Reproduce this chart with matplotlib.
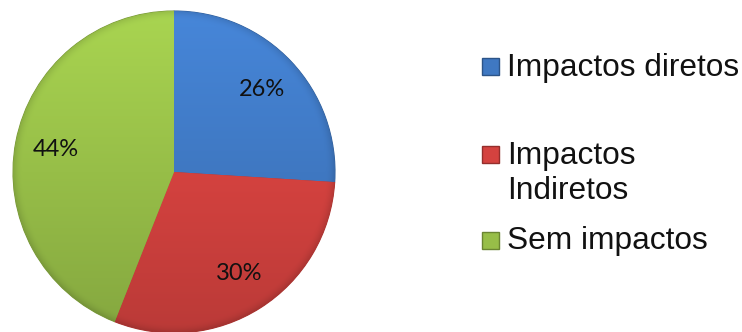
import numpy as np
import matplotlib.pyplot as plt
import matplotlib.colors as mcolors
from matplotlib.patches import Rectangle

labels = ['Impactos diretos', 'Impactos\nIndiretos', 'Sem impactos']
shares = [26, 30, 44]
colors = ['#3F78C2', '#D4423F', '#97BE48']

W, H = 742, 332
fig = plt.figure(figsize=(W / 100, H / 100), dpi=100)
ax = fig.add_axes([0, 0, 1, 1])

cx, cy, R = 174, 160, 161
wedges, texts, autotexts = ax.pie(
    shares, colors=colors, startangle=90, counterclock=False,
    radius=R, center=(cx, cy), autopct='%1.0f%%', pctdistance=0.75,
    wedgeprops=dict(linewidth=0.8),
    textprops=dict(fontsize=17, family='Lato', color='#111111'))

ax.set_xlim(0, W)
ax.set_ylim(0, H)
ax.set_aspect('equal')
ax.axis('off')

# vertical light-to-dark gradient with a slightly darker rim, clipped to each slice
n = 400
xs = np.linspace(cx - R, cx + R, n)
ys = np.linspace(cy + R, cy - R, n)
gx, gy = np.meshgrid(xs, ys)
t = (cy + R - gy) / (2 * R)
rr = np.hypot(gx - cx, gy - cy) / R
shade = 1.12 - 0.24 * t - 0.12 * np.clip((rr - 0.94) / 0.06, 0, 1) ** 2

for w, c in zip(wedges, colors):
    base = np.array(mcolors.to_rgb(c))
    img = np.clip(shade[..., None] * base, 0, 1)
    im = ax.imshow(img, extent=(cx - R, cx + R, cy - R, cy + R),
                   origin='upper', zorder=w.get_zorder() + 0.1,
                   interpolation='bilinear')
    im.set_clip_path(w)
    w.set_edgecolor(tuple(base * 0.8))

for t_ in autotexts:
    t_.set_zorder(5)

# legend drawn by hand so the wrapped entry sits like the original
legend_x = 507
text_baselines = [H - 76, H - 199, H - 249]
marker_bottoms = [H - 75, H - 163, H - 249]
for lab, c, yb, ym in zip(labels, colors, text_baselines, marker_bottoms):
    base = np.array(mcolors.to_rgb(c))
    ax.add_patch(Rectangle((482, ym), 17, 17, facecolor=c,
                           edgecolor=tuple(base * 0.7), linewidth=1, zorder=5))
    ax.text(legend_x, yb, lab, fontsize=22.8, family='Liberation Sans',
            va='baseline', ha='left', color='#111111', linespacing=1.21,
            zorder=5)

fig.savefig('out.png', dpi=100)
